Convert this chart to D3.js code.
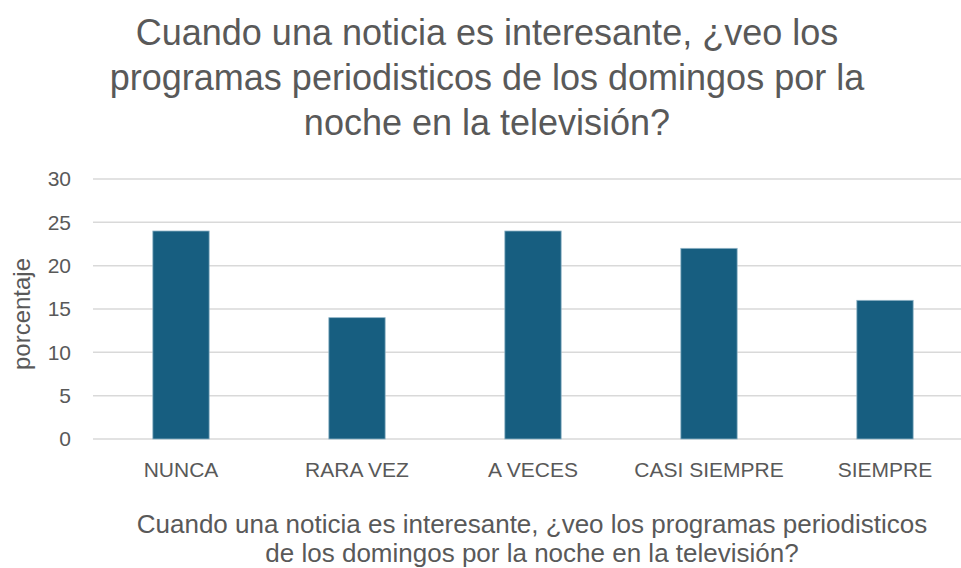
<!DOCTYPE html>
<html>
<head>
<meta charset="utf-8">
<script src="https://cdn.jsdelivr.net/npm/d3@7"></script>
<style>
  body { margin: 0; background: #fff; }
  svg text { font-family: "Liberation Sans", Arial, sans-serif; fill: #595959; }
</style>
</head>
<body>
<div class="chart"></div>
<script>
// data
const categories = ["NUNCA", "RARA VEZ", "A VECES", "CASI SIEMPRE", "SIEMPRE"];
const values = [24, 14, 24, 22, 16];
const yTicks = [0, 5, 10, 15, 20, 25, 30];
const titleLines = ["Cuando una noticia es interesante, ¿veo los",
    "programas periodisticos de los domingos por la",
    "noche en la televisión?"];
const xTitleLines = ["Cuando una noticia es interesante, ¿veo los programas periodisticos",
    "de los domingos por la noche en la televisión?"];
const yTitle = "porcentaje";

var width = 961, height = 568;
var margin = ({top: 179, right: -12, bottom: 129, left: 93});
var innerW = width - margin.left - margin.right,
    innerH = height - margin.top - margin.bottom;

var svg = d3.select(".chart").append("svg")
    .attr("width", width)
    .attr("height", height);

const xScale = d3.scaleBand()
    .domain(categories)
    .range([margin.left, margin.left + innerW])
    .paddingInner(0.68)
    .paddingOuter(0.34);

const yScale = d3.scaleLinear()
    .domain([0, 30])
    .range([margin.top + innerH, margin.top]);

// gridlines
svg.append("g")
    .selectAll("line")
    .data(yTicks)
    .join("line")
    .attr("x1", margin.left)
    .attr("x2", width)
    .attr("y1", d => yScale(d))
    .attr("y2", d => yScale(d))
    .attr("stroke", "#d9d9d9")
    .attr("stroke-width", 1.5);

// y tick labels
const yAxis = d3.axisLeft(yScale).tickValues(yTicks).tickSize(0).tickPadding(22);
svg.append("g")
    .attr("class", "axis y-axis")
    .attr("transform", `translate(${margin.left}, 0)`)
    .call(yAxis)
    .call(g => g.select(".domain").remove())
    .selectAll("text")
    .attr("font-family", null)
    .style("font-size", "21px")
    .attr("fill", "#595959");

// bars
svg.append("g")
    .selectAll("rect")
    .data(values)
    .join("rect")
    .attr("x", (d, i) => xScale(categories[i]))
    .attr("y", d => yScale(d))
    .attr("width", xScale.bandwidth())
    .attr("height", d => yScale(0) - yScale(d))
    .attr("fill", "#175e80")
    .attr("stroke", "#8fb3c6")
    .attr("stroke-width", 0.8);

// x tick labels
const xAxis = d3.axisBottom(xScale).tickSize(0).tickPadding(23);
svg.append("g")
    .attr("class", "axis x-axis")
    .attr("transform", `translate(0, ${yScale(0)})`)
    .call(xAxis)
    .call(g => g.select(".domain").remove())
    .selectAll("text")
    .attr("font-family", null)
    .style("font-size", "21px")
    .attr("fill", "#595959");

// chart title
svg.append("g")
    .selectAll("text")
    .data(titleLines)
    .join("text")
    .attr("x", 487)
    .attr("y", (d, i) => 45 + i * 45)
    .attr("text-anchor", "middle")
    .style("font-size", "36px")
    .text(d => d);

// x axis title
svg.append("g")
    .selectAll("text")
    .data(xTitleLines)
    .join("text")
    .attr("x", 532)
    .attr("y", (d, i) => 533 + i * 29)
    .attr("text-anchor", "middle")
    .style("font-size", "26px")
    .text(d => d);

// y axis title
svg.append("text")
    .attr("transform", "translate(30, 314) rotate(-90)")
    .attr("text-anchor", "middle")
    .style("font-size", "24px")
    .text(yTitle);
</script>
</body>
</html>
